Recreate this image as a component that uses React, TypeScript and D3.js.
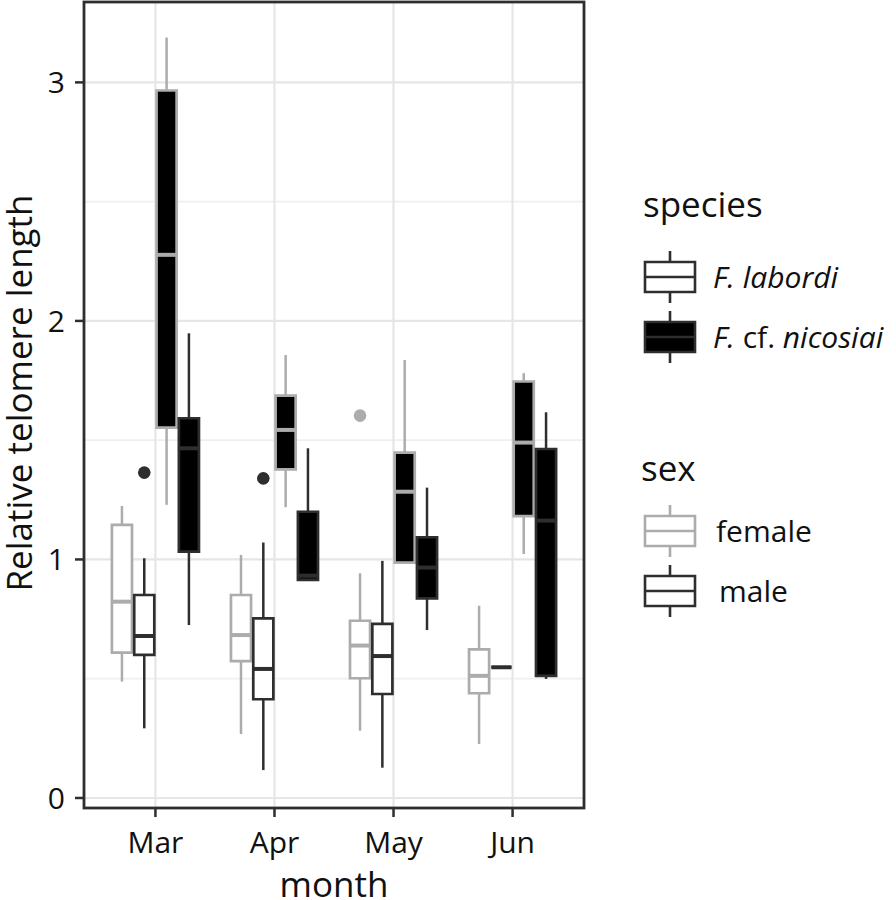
import React from "react";
import * as d3 from "d3";

const months = ["Mar", "Apr", "May", "Jun"];
const yTicks = [0, 1, 2, 3];
const yMinor = [0.5, 1.5, 2.5];

// each entry: [lower whisker, q1, median, q3, upper whisker] per month
const femaleLabordi = [
  [0.488, 0.609, 0.823, 1.145, 1.224],
  [0.268, 0.574, 0.683, 0.851, 1.019],
  [0.282, 0.502, 0.639, 0.743, 0.942],
  [0.226, 0.439, 0.512, 0.623, 0.806],
];
const maleLabordi = [
  [0.292, 0.6, 0.679, 0.851, 1.005],
  [0.117, 0.414, 0.541, 0.753, 1.071],
  [0.127, 0.436, 0.595, 0.73, 0.994],
  [0.548, 0.548, 0.548, 0.548, 0.548],
];
const femaleNicosiai = [
  [1.229, 1.553, 2.277, 2.966, 3.188],
  [1.219, 1.378, 1.543, 1.687, 1.857],
  [0.987, 0.987, 1.284, 1.448, 1.836],
  [1.023, 1.182, 1.49, 1.746, 1.781],
];
const maleNicosiai = [
  [0.725, 1.033, 1.466, 1.592, 1.948],
  [0.914, 0.914, 0.932, 1.2, 1.466],
  [0.704, 0.837, 0.966, 1.093, 1.301],
  [0.499, 0.512, 1.163, 1.463, 1.617],
];

// outliers: month, group index, value
const outlierMonths = ["Mar", "Apr", "May"];
const outlierGroups = [1, 1, 0];
const outlierValues = [1.364, 1.34, 1.603];

const GREY = "#acacac";
const DARK = "#2e2e2e";

const groups = [
  { data: femaleLabordi, stroke: GREY, fill: "#ffffff" },
  { data: maleLabordi, stroke: DARK, fill: "#ffffff" },
  { data: femaleNicosiai, stroke: GREY, fill: "#000000" },
  { data: maleNicosiai, stroke: DARK, fill: "#000000" },
];

const FONT = "'Open Sans', sans-serif";
const TEXT = "#111111";

export default function App() {
  const left = 84, right = 584, top = 2, bottom = 808;
  const x = d3.scalePoint<string>().domain(months).range([left, right]).padding(0.6);
  const step = x.step();
  const slot = step * 0.75 / 4;
  const boxW = slot * 0.9;
  const y = d3.scaleLinear().domain([-0.042, 3.337]).range([bottom, top]);
  const offset = (g: number) => (g - 1.5) * slot;

  const boxPath = (cx: number, q1: number, q3: number) => {
    const x0 = cx - boxW / 2, x1 = cx + boxW / 2;
    return `M${x0},${y(q3)}H${x1}V${y(q1)}H${x0}Z`;
  };

  const legendKey = (kx: number, cy: number, stroke: string, fill: string, medStroke: string) => {
    const w = 50, h = 30, wh = 52;
    return (
      <g>
        <line x1={kx + w / 2} x2={kx + w / 2} y1={cy - wh / 2} y2={cy + wh / 2} stroke={stroke} strokeWidth={2.6} />
        <path d={`M${kx},${cy - h / 2}H${kx + w}V${cy + h / 2}H${kx}Z`} fill={fill} stroke={stroke} strokeWidth={2.6} />
        <line x1={kx} x2={kx + w} y1={cy} y2={cy} stroke={medStroke} strokeWidth={2.6} />
      </g>
    );
  };

  return (
    <div style={{ position: "absolute", left: 0, top: 0 }}>
      <svg width={896} height={900} style={{ display: "block" }}>
        <rect x={0} y={0} width={896} height={900} fill="#ffffff" />
        {/* grid */}
        {yMinor.map((v) => (
          <line key={"mn" + v} x1={left} x2={right} y1={y(v)} y2={y(v)} stroke="#efefef" strokeWidth={1.8} />
        ))}
        {yTicks.map((v) => (
          <line key={"mj" + v} x1={left} x2={right} y1={y(v)} y2={y(v)} stroke="#e6e6e6" strokeWidth={2.2} />
        ))}
        {months.map((m) => (
          <line key={"vg" + m} x1={x(m)} x2={x(m)} y1={top} y2={bottom} stroke="#e6e6e6" strokeWidth={2.2} />
        ))}
        {/* boxes */}
        {groups.map((g, gi) =>
          months.map((m, mi) => {
            const [lo, q1, med, q3, hi] = g.data[mi];
            const cx = (x(m) as number) + offset(gi);
            return (
              <g key={gi + "-" + m}>
                <line x1={cx} x2={cx} y1={y(hi)} y2={y(q3)} stroke={g.stroke} strokeWidth={2.5} />
                <line x1={cx} x2={cx} y1={y(q1)} y2={y(lo)} stroke={g.stroke} strokeWidth={2.5} />
                <path d={boxPath(cx, q1, q3)} fill={g.fill} stroke={g.stroke} strokeWidth={2.7} />
                <line x1={cx - boxW / 2} x2={cx + boxW / 2} y1={y(med)} y2={y(med)} stroke={g.stroke} strokeWidth={4} />
              </g>
            );
          })
        )}
        {outlierValues.map((v, i) => (
          <circle
            key={"o" + i}
            cx={(x(outlierMonths[i]) as number) + offset(outlierGroups[i])}
            cy={y(v)}
            r={6.3}
            fill={groups[outlierGroups[i]].stroke}
          />
        ))}
        {/* panel border */}
        <rect x={left} y={top} width={right - left} height={bottom - top} fill="none" stroke={DARK} strokeWidth={2.8} />
        {/* y axis */}
        {yTicks.map((v) => (
          <g key={"yt" + v}>
            <line x1={left - 9} x2={left} y1={y(v)} y2={y(v)} stroke={DARK} strokeWidth={2.5} />
            <text x={left - 19} y={y(v)} dy="0.36em" textAnchor="end" fontFamily={FONT} fontSize={30} fill={TEXT}>
              {v}
            </text>
          </g>
        ))}
        {/* x axis */}
        {months.map((m) => (
          <g key={"xt" + m}>
            <line x1={x(m)} x2={x(m)} y1={bottom} y2={bottom + 9} stroke={DARK} strokeWidth={2.5} />
            <text x={x(m)} y={853} textAnchor="middle" fontFamily={FONT} fontSize={30} fill={TEXT}>
              {m}
            </text>
          </g>
        ))}
        <text x={(left + right) / 2} y={897} textAnchor="middle" fontFamily={FONT} fontSize={35} fill={TEXT}>
          month
        </text>
        <text
          transform={`translate(32,${(top + bottom) / 2 - 12}) rotate(-90)`}
          textAnchor="middle"
          fontFamily={FONT}
          fontSize={35}
          fill={TEXT}
        >
          Relative telomere length
        </text>
        {/* legend: species */}
        <text x={643} y={217} fontFamily={FONT} fontSize={35} fill={TEXT}>species</text>
        {legendKey(645, 277, DARK, "#ffffff", DARK)}
        <text x={713} y={288} fontFamily={FONT} fontSize={30} fontStyle="italic" fill={TEXT}>F. labordi</text>
        {legendKey(645, 337, DARK, "#000000", DARK)}
        <text x={713} y={348} fontFamily={FONT} fontSize={30} fill={TEXT}>
          <tspan fontStyle="italic">F.</tspan> cf. <tspan fontStyle="italic">nicosiai</tspan>
        </text>
        {/* legend: sex */}
        <text x={641} y={481} fontFamily={FONT} fontSize={35} fill={TEXT}>sex</text>
        {legendKey(645, 531, GREY, "#ffffff", GREY)}
        <text x={716} y={542} fontFamily={FONT} fontSize={30} fill={TEXT}>female</text>
        {legendKey(645, 591, DARK, "#ffffff", DARK)}
        <text x={719} y={602} fontFamily={FONT} fontSize={30} fill={TEXT}>male</text>
      </svg>
    </div>
  );
}
